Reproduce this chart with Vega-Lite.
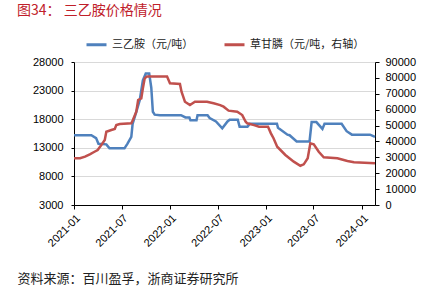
{
  "$schema": "https://vega.github.io/schema/vega-lite/v6.json",
  "width": 301,
  "height": 143,
  "autosize": {"type": "none"},
  "padding": {"left": 74, "top": 62, "right": 63, "bottom": 85},
  "background": "white",
  "title": {
    "text": "图34：  三乙胺价格情况",
    "anchor": "start",
    "frame": "group",
    "dx": -57,
    "font": "Noto Sans CJK SC",
    "fontSize": 14,
    "fontWeight": "normal",
    "color": "#c0202a",
    "baseline": "middle",
    "offset": 8
  },
  "datasets": {
    "tea": [
      {"date": "2021-01-01", "price": 15200},
      {"date": "2021-02-01", "price": 15200},
      {"date": "2021-03-08", "price": 15200},
      {"date": "2021-03-26", "price": 14700},
      {"date": "2021-04-04", "price": 13700},
      {"date": "2021-05-04", "price": 13600},
      {"date": "2021-05-16", "price": 12900},
      {"date": "2021-07-12", "price": 12900},
      {"date": "2021-07-23", "price": 13700},
      {"date": "2021-08-07", "price": 14900},
      {"date": "2021-08-12", "price": 17200},
      {"date": "2021-08-26", "price": 19300},
      {"date": "2021-09-08", "price": 21300},
      {"date": "2021-09-20", "price": 24800},
      {"date": "2021-10-01", "price": 26000},
      {"date": "2021-10-14", "price": 26000},
      {"date": "2021-10-22", "price": 23500},
      {"date": "2021-10-28", "price": 19300},
      {"date": "2021-11-04", "price": 18800},
      {"date": "2021-11-24", "price": 18700},
      {"date": "2022-02-12", "price": 18700},
      {"date": "2022-03-01", "price": 18300},
      {"date": "2022-03-16", "price": 18300},
      {"date": "2022-03-20", "price": 17800},
      {"date": "2022-04-12", "price": 17800},
      {"date": "2022-04-16", "price": 18700},
      {"date": "2022-05-24", "price": 18700},
      {"date": "2022-06-01", "price": 18200},
      {"date": "2022-06-25", "price": 17600},
      {"date": "2022-07-19", "price": 16400},
      {"date": "2022-08-08", "price": 17600},
      {"date": "2022-08-16", "price": 17900},
      {"date": "2022-09-16", "price": 17900},
      {"date": "2022-09-23", "price": 16700},
      {"date": "2022-10-23", "price": 16700},
      {"date": "2022-11-01", "price": 17200},
      {"date": "2023-02-12", "price": 17200},
      {"date": "2023-02-16", "price": 16500},
      {"date": "2023-03-24", "price": 15300},
      {"date": "2023-04-01", "price": 15200},
      {"date": "2023-04-28", "price": 14100},
      {"date": "2023-06-16", "price": 14100},
      {"date": "2023-06-24", "price": 17500},
      {"date": "2023-07-12", "price": 17500},
      {"date": "2023-08-04", "price": 16300},
      {"date": "2023-08-12", "price": 17200},
      {"date": "2023-10-16", "price": 17200},
      {"date": "2023-11-04", "price": 15900},
      {"date": "2023-11-24", "price": 15300},
      {"date": "2024-02-01", "price": 15300},
      {"date": "2024-02-20", "price": 14900}
    ],
    "glyphosate": [
      {"date": "2021-01-01", "price": 29400},
      {"date": "2021-01-24", "price": 29400},
      {"date": "2021-02-12", "price": 30400},
      {"date": "2021-03-02", "price": 31900},
      {"date": "2021-03-20", "price": 33500},
      {"date": "2021-04-01", "price": 34600},
      {"date": "2021-04-15", "price": 37800},
      {"date": "2021-04-28", "price": 40900},
      {"date": "2021-05-04", "price": 46100},
      {"date": "2021-05-23", "price": 47200},
      {"date": "2021-06-05", "price": 47800},
      {"date": "2021-06-11", "price": 50300},
      {"date": "2021-06-24", "price": 51000},
      {"date": "2021-08-07", "price": 51400},
      {"date": "2021-08-13", "price": 53500},
      {"date": "2021-08-26", "price": 58700},
      {"date": "2021-09-02", "price": 66100},
      {"date": "2021-09-14", "price": 67100},
      {"date": "2021-09-20", "price": 73400},
      {"date": "2021-09-27", "price": 79700},
      {"date": "2021-10-05", "price": 80800},
      {"date": "2021-12-21", "price": 80800},
      {"date": "2022-01-01", "price": 76600},
      {"date": "2022-02-08", "price": 76200},
      {"date": "2022-02-14", "price": 71300},
      {"date": "2022-02-27", "price": 65000},
      {"date": "2022-03-18", "price": 62900},
      {"date": "2022-04-06", "price": 65000},
      {"date": "2022-05-22", "price": 65000},
      {"date": "2022-06-16", "price": 64000},
      {"date": "2022-07-11", "price": 62900},
      {"date": "2022-07-24", "price": 61900},
      {"date": "2022-08-12", "price": 59400},
      {"date": "2022-09-14", "price": 58700},
      {"date": "2022-10-03", "price": 56600},
      {"date": "2022-10-16", "price": 52400},
      {"date": "2022-10-22", "price": 51400},
      {"date": "2022-11-17", "price": 50300},
      {"date": "2022-12-06", "price": 49300},
      {"date": "2023-01-09", "price": 49300},
      {"date": "2023-01-20", "price": 45100},
      {"date": "2023-01-30", "price": 42000},
      {"date": "2023-02-13", "price": 36700},
      {"date": "2023-03-16", "price": 31500},
      {"date": "2023-04-17", "price": 27300},
      {"date": "2023-05-12", "price": 24700},
      {"date": "2023-05-25", "price": 25600},
      {"date": "2023-06-09", "price": 29400},
      {"date": "2023-06-19", "price": 38800},
      {"date": "2023-07-02", "price": 38200},
      {"date": "2023-07-21", "price": 33500},
      {"date": "2023-08-09", "price": 30000},
      {"date": "2023-09-30", "price": 29400},
      {"date": "2023-11-07", "price": 27700},
      {"date": "2023-12-02", "price": 26900},
      {"date": "2024-02-20", "price": 26200}
    ]
  },
  "layer": [
    {
      "data": {"name": "tea"},
      "mark": {"type": "line", "strokeWidth": 2.5, "clip": false},
      "encoding": {
        "x": {
          "field": "date",
          "type": "temporal",
          "scale": {"type": "utc", "domain": ["2021-01-01", "2024-02-20"]},
          "axis": {
            "format": "%Y-%m",
            "tickCount": {"interval": "month", "step": 6},
            "labelAngle": -45,
            "labelFont": "Liberation Sans",
            "labelFontSize": 11,
            "labelColor": "black",
            "domainColor": "black",
            "tickColor": "black",
            "tickSize": 4,
            "labelPadding": 3,
            "grid": false,
            "title": "资料来源：百川盈孚，浙商证券研究所",
            "titleFont": "Noto Sans CJK SC",
            "titleFontSize": 13,
            "titleFontWeight": "normal",
            "titleColor": "#222222",
            "titleAnchor": "start",
            "titleAlign": "left",
            "titleBaseline": "middle",
            "titleX": -57,
            "titleY": 73
          }
        },
        "y": {
          "field": "price",
          "type": "quantitative",
          "scale": {"domain": [3000, 28000], "nice": false, "zero": false},
          "axis": {
            "values": [3000, 8000, 13000, 18000, 23000, 28000],
            "format": "d",
            "title": null,
            "labelFont": "Liberation Sans",
            "labelFontSize": 11,
            "labelColor": "black",
            "domainColor": "black",
            "tickColor": "black",
            "tickSize": 3,
            "labelPadding": 8,
            "grid": true,
            "gridColor": "#d9d9d9"
          }
        },
        "color": {
          "datum": "三乙胺（元/吨）",
          "type": "nominal",
          "scale": {
            "domain": ["三乙胺（元/吨）", "草甘膦（元/吨，右轴）"],
            "range": ["#4f81bd", "#c0504d"]
          },
          "legend": {
            "title": null,
            "orient": "none",
            "direction": "horizontal",
            "legendX": 11,
            "legendY": -29,
            "symbolType": "stroke",
            "symbolStrokeWidth": 3,
            "symbolSize": 400,
            "labelFont": "Noto Sans CJK SC",
            "labelFontSize": 11,
            "labelColor": "#222222",
            "columnPadding": 24,
            "labelOffset": 4
          }
        }
      }
    },
    {
      "data": {"name": "glyphosate"},
      "mark": {"type": "line", "strokeWidth": 2.5, "clip": false},
      "encoding": {
        "x": {"field": "date", "type": "temporal"},
        "y": {
          "field": "price",
          "type": "quantitative",
          "scale": {"domain": [0, 90000], "nice": false},
          "axis": {
            "orient": "right",
            "values": [0, 10000, 20000, 30000, 40000, 50000, 60000, 70000, 80000, 90000],
            "format": "d",
            "title": null,
            "labelFont": "Liberation Sans",
            "labelFontSize": 11,
            "labelColor": "black",
            "domainColor": "black",
            "tickColor": "black",
            "tickSize": 4,
            "labelPadding": 6,
            "grid": false
          }
        },
        "color": {"datum": "草甘膦（元/吨，右轴）", "type": "nominal"}
      }
    }
  ],
  "resolve": {"scale": {"y": "independent"}},
  "config": {"view": {"stroke": null}}
}
